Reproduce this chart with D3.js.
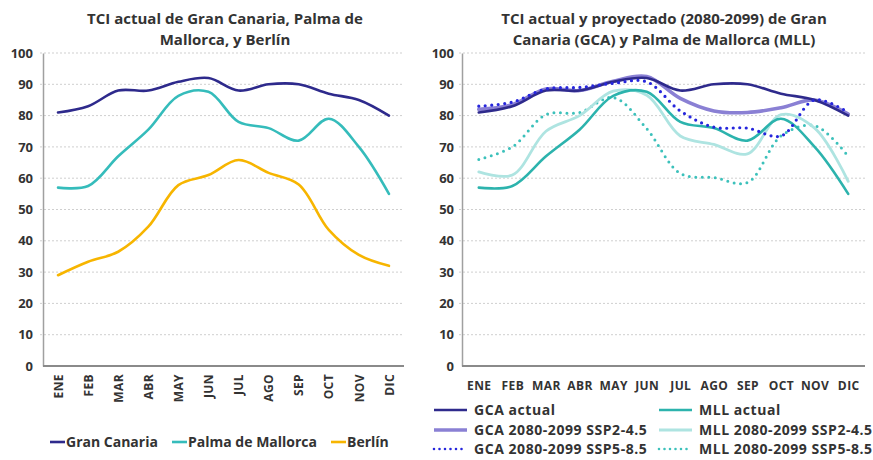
<!DOCTYPE html>
<html>
<head>
<meta charset="utf-8">
<title>TCI</title>
<style>
  body { margin: 0; background: #fff; }
  svg text { font-family: "Open Sans", sans-serif; font-weight: 700; fill: #333; }
</style>
</head>
<body>
<script src="https://d3js.org/d3.v7.min.js"></script>
<script>
// months
const months = ["ENE","FEB","MAR","ABR","MAY","JUN","JUL","AGO","SEP","OCT","NOV","DIC"];
const yTicks = [0,10,20,30,40,50,60,70,80,90,100];

// left chart
const granCanaria = [81, 83, 88, 88, 90.8, 92, 88, 90, 90, 87, 85, 80];
const palma       = [57, 57.5, 67, 75.5, 86.3, 87.6, 78, 76, 72, 79, 70, 55];
const berlin      = [29, 33.3, 36.5, 44.5, 57.8, 61, 65.8, 61.7, 58, 43.5, 35.5, 32];

// right chart
const gcaActual = granCanaria;
const gcaSsp245 = [82, 83.5, 88.5, 88, 91, 92.5, 85.5, 81.5, 81, 82.5, 85, 80.5];
const gcaSsp585 = [83, 84.3, 88.5, 89, 90.3, 90.8, 81.5, 76.3, 76, 73.5, 85, 81];
const mllActual = palma;
const mllSsp245 = [62, 61, 75, 80, 87.8, 86.5, 73.5, 70.8, 67.8, 80.3, 76, 59];
const mllSsp585 = [66, 70, 80.3, 81, 85.8, 75.8, 61.5, 60.2, 58.6, 73.5, 76.8, 67];

const width = 873, height = 460;
const svg = d3.select("body").append("svg")
  .attr("width", width)
  .attr("height", height);

function drawPanel(opt) {
  const x = d3.scalePoint().domain(months).range([opt.x0, opt.x1]).padding(0.5);
  const y = d3.scaleLinear().domain([0, 100]).range([366, 53]);
  const g = svg.append("g");

  // gridlines
  g.selectAll(".grid")
    .data(yTicks.filter(d => d > 0))
    .join("line")
    .attr("x1", opt.x0 - 3).attr("x2", opt.x1)
    .attr("y1", d => y(d)).attr("y2", d => y(d))
    .attr("stroke", "#cfcfcf")
    .attr("stroke-width", 1)
    .attr("stroke-dasharray", "2,2");

  // y axis
  const yAxis = g.append("g")
    .attr("transform", `translate(${opt.x0},0)`)
    .call(d3.axisLeft(y).tickValues(yTicks).tickSize(0).tickPadding(opt.ypad));
  yAxis.select(".domain").attr("stroke", "#a0a0a0").attr("stroke-width", 1.5);
  yAxis.selectAll("text").style("font-size", "13px").attr("fill", "#333");

  // x axis
  const xAxis = g.append("g")
    .attr("transform", `translate(0,366)`)
    .call(d3.axisBottom(x).tickSize(0).tickSizeOuter(0));
  xAxis.select(".domain").attr("stroke", "#8a8a8a").attr("stroke-width", 2)
    .attr("d", `M${opt.x0},0H${opt.x1}`);
  if (opt.rotate) {
    xAxis.selectAll("text")
      .style("font-size", "12px")
      .style("letter-spacing", "0.4px")
      .attr("text-anchor", "end")
      .attr("dy", "0.35em")
      .attr("transform", "translate(0,8) rotate(-90)")
      .attr("x", 0).attr("y", 0);
  } else {
    xAxis.selectAll("text")
      .style("font-size", "12px")
      .style("letter-spacing", "0.4px")
      .attr("y", 15);
  }

  // title, one text per line
  g.selectAll(".title")
    .data(opt.title)
    .join("text")
    .attr("class", "title")
    .attr("x", opt.tx)
    .attr("y", (d, i) => 24 + i * 20.5)
    .attr("text-anchor", "middle")
    .style("font-size", "15px")
    .text(d => d);

  const line = d3.line()
    .x((d, i) => x(months[i]))
    .y(d => y(d))
    .curve(d3.curveCatmullRom.alpha(0.5));

  opt.series.forEach(s => {
    g.append("path")
      .datum(s.values)
      .attr("d", line)
      .attr("fill", "none")
      .attr("stroke", s.color)
      .attr("stroke-width", s.width)
      .attr("stroke-linecap", "round")
      .attr("stroke-dasharray", s.dash || null);
  });
}

const leftSeries = [
  { name: "Gran Canaria", values: granCanaria, color: "#2e2a8c", width: 2.6 },
  { name: "Palma de Mallorca", values: palma, color: "#35bcbb", width: 2.6 },
  { name: "Berlín", values: berlin, color: "#f7b500", width: 2.6 }
];

const rightSeries = [
  { name: "MLL 2080-2099 SSP5-8.5", values: mllSsp585, color: "#3cc1bb", width: 3, dash: "0,6.5" },
  { name: "MLL 2080-2099 SSP2-4.5", values: mllSsp245, color: "#aee4e1", width: 2.8 },
  { name: "MLL actual", values: mllActual, color: "#2cb3ad", width: 2.6 },
  { name: "GCA 2080-2099 SSP2-4.5", values: gcaSsp245, color: "#8a80d4", width: 3.6 },
  { name: "GCA actual", values: gcaActual, color: "#2e2a8c", width: 2.6 },
  { name: "GCA 2080-2099 SSP5-8.5", values: gcaSsp585, color: "#2626dc", width: 3.2, dash: "0,6.5" }
];

drawPanel({
  x0: 43, x1: 404, ypad: 10, rotate: true, tx: 225,
  title: ["TCI actual de Gran Canaria, Palma de", "Mallorca, y Berlín"],
  series: leftSeries
});

drawPanel({
  x0: 462, x1: 865, ypad: 8, rotate: false, tx: 664,
  title: ["TCI actual y proyectado (2080-2099) de Gran", "Canaria (GCA) y Palma de Mallorca (MLL)"],
  series: rightSeries
});

// left legend
const leftLegendX = [50, 172, 331];
leftSeries.forEach((s, i) => {
  const lg = svg.append("g").attr("transform", `translate(${leftLegendX[i]},442)`);
  lg.append("line").attr("x1", 0).attr("x2", 15).attr("y1", 0).attr("y2", 0)
    .attr("stroke", s.color).attr("stroke-width", 2.6);
  lg.append("text").attr("x", 16).attr("dy", "0.35em")
    .style("font-size", "14px").text(s.name);
});

// right legend
const rightLegend = [
  rightSeries[4], rightSeries[2],
  rightSeries[3], rightSeries[1],
  rightSeries[5], rightSeries[0]
];
rightLegend.forEach((s, i) => {
  const col = i % 2, row = Math.floor(i / 2);
  const lx = col === 0 ? 434 : 659;
  const ly = [410, 430, 449][row];
  const lg = svg.append("g").attr("transform", `translate(${lx},${ly})`);
  lg.append("line").attr("x1", 0).attr("x2", 33).attr("y1", 0).attr("y2", 0)
    .attr("stroke", s.color)
    .attr("stroke-width", s.dash ? 2.6 : s.width)
    .attr("stroke-linecap", s.dash ? "round" : "butt")
    .attr("stroke-dasharray", s.dash ? "0,5.5" : null);
  lg.append("text").attr("x", 40).attr("dy", "0.35em")
    .style("font-size", "14px")
    .style("letter-spacing", "0.55px")
    .text(s.name);
});
</script>
</body>
</html>
